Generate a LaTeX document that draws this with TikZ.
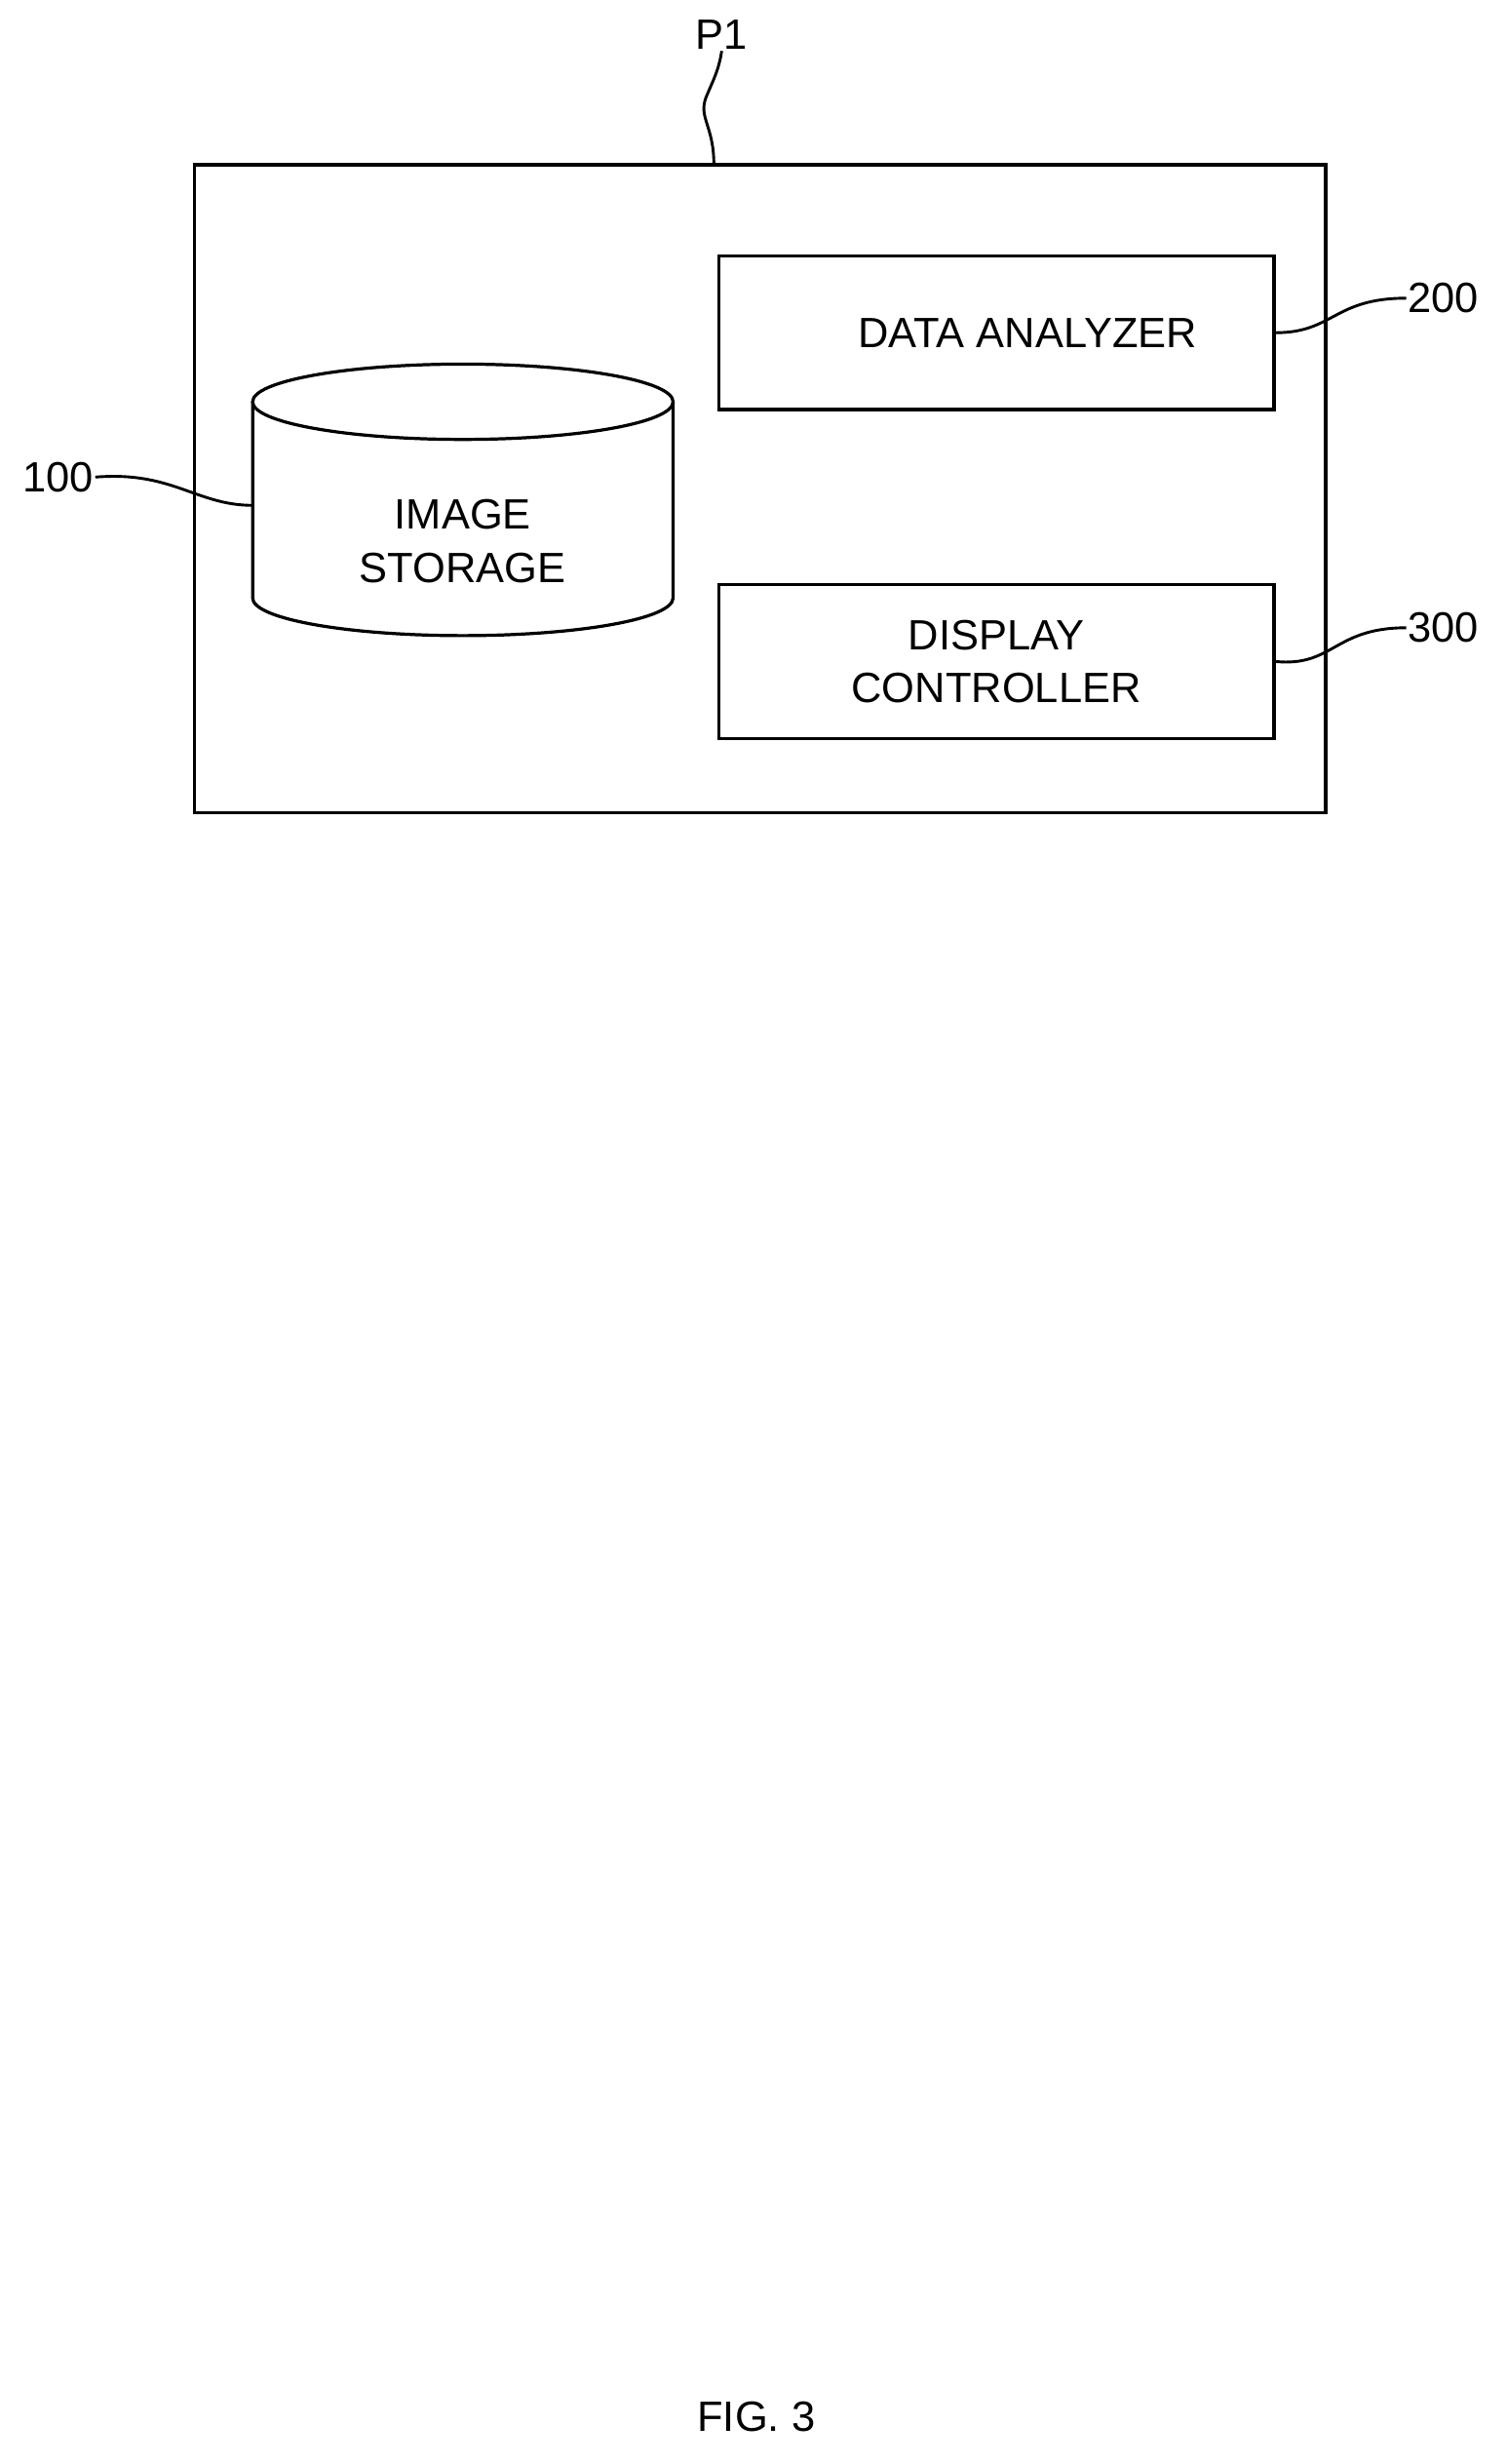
\documentclass[tikz,border=0pt]{standalone}
\usepackage{fontspec}
\setmainfont{Liberation Sans}
\usetikzlibrary{positioning}
\tikzset{unit box/.style={draw,line width=2pt,minimum width=354pt,minimum height=98pt,align=center,inner sep=0pt},
         lead/.style={line width=1.8pt},
         ref label/.style={inner sep=1pt,font=\fontsize{27}{32}\selectfont}}
\begin{document}
\begin{tikzpicture}[x=1pt,y=1pt,font=\fontsize{27}{34}\selectfont]
        \useasboundingbox (0,0) rectangle (960,-1570);

        \node (p1) [draw,line width=2pt,minimum width=721pt,minimum height=413pt,inner sep=0pt] at (484.5,-311.5) {};
        \node (ana) [unit box] at (635,-212) {\hspace*{40pt}DATA ANALYZER};
        \node (disp) [unit box] at (635,-421.5) {DISPLAY\\CONTROLLER};
        \node (store) [align=center,inner sep=0pt] at (295,-345) {IMAGE\\STORAGE};
        \coordinate (sl) at (161,-322);

        % cylinder
        \draw [line width=2pt] (295,-256) ellipse [x radius=134, y radius=24];
        \draw [line width=2pt] (161,-256) -- (161,-381) arc [start angle=180, end angle=360, x radius=134, y radius=24] -- (429,-256);

        \node (l1) [ref label] at (460,-22) {P1};
        \node (l100) [ref label] at (37,-304) {100};
        \node (l200) [ref label] at (920,-190) {200};
        \node (l300) [ref label] at (920,-400) {300};
        \node (fig) [ref label] at (482,-1540) {FIG. 3};

        \draw [lead] (455,-105) .. controls (455,-80) and (445,-75) .. (450,-62) .. controls (455,-50) and (458,-45) .. (l1.south);
        \draw [lead] (sl) .. controls (125,-322) and (110,-300) .. (l100.east);
        \draw [lead] (ana.east) .. controls (850,-212) and (850,-190) .. (l200.west);
        \draw [lead] (disp.east) .. controls (850,-425) and (850,-400) .. (l300.west);
\end{tikzpicture}
\end{document}
